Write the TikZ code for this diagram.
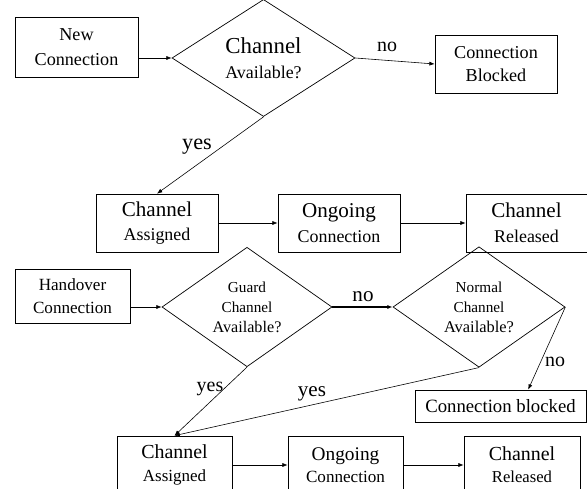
\documentclass[tikz,border=0pt]{standalone}
\usepackage{fontspec}
\setmainfont{Liberation Serif}
\usetikzlibrary{shapes.geometric,arrows.meta}

\newcommand{\sz}[2]{\fontsize{#1}{#2}\selectfont}

\tikzset{
    box/.style={draw, rectangle, line width=0.6pt, align=center, inner sep=0pt},
    decision/.style={draw, diamond, line width=0.6pt, align=center, inner sep=0pt},
    flow/.style={-{Latex[length=4.5pt,width=3.5pt]}, line width=0.5pt},
    lbl/.style={anchor=base, font=\sz{17}{17}}
}

\begin{document}
\begin{tikzpicture}[x=0.03cm, y=-0.03cm]
    \clip (0,0) rectangle (587,489);
    \useasboundingbox (0,0) rectangle (587,489);

    \node[box, minimum width=3.69cm, minimum height=1.8cm, font=\sz{15.5}{21}] (NewConn) at (76.5,47) {New\\Connection};
    \node[decision, minimum width=5.49cm, minimum height=3.03cm, font=\sz{15.3}{21}] (ChanAvail) at (263.5,58) {{\sz{19.5}{21}Channel}\\Available?};
    \node[box, minimum width=3.66cm, minimum height=1.74cm, font=\sz{15.5}{19}] (ConnBlocked) at (496,64) {Connection\\Blocked};

    \node[box, minimum width=3.66cm, minimum height=1.74cm, font=\sz{15.3}{21}] (ChanAssigned) at (157,223) {{\sz{18}{21}Channel}\\Assigned};
    \node[box, minimum width=3.66cm, minimum height=1.74cm, font=\sz{15.3}{21}] (Ongoing) at (339,223) {{\sz{18}{21}Ongoing}\\Connection};
    \node[box, minimum width=3.63cm, minimum height=1.74cm, font=\sz{15.3}{21}] (ChanReleased) at (526.5,223) {{\sz{18}{21}Channel}\\Released};

    \node[box, minimum width=3.45cm, minimum height=1.62cm, font=\sz{14.6}{19.5}] (Handover) at (72.5,296) {Handover\\Connection};
    \node[decision, minimum width=5.1cm, minimum height=2.88cm, font=\sz{13}{17}] (GuardAvail) at (247,307) {Guard\\Channel\\{\sz{13.8}{17}Available?}};
    \node[decision, minimum width=5.16cm, minimum height=2.88cm, font=\sz{13}{17}] (NormAvail) at (479,307) {Normal\\Channel\\{\sz{14}{17}Available?}};
    \node[box, minimum width=5.13cm, minimum height=0.96cm, font=\sz{16}{18}] (ConnBlockedB) at (500.5,406) {Connection blocked};

    \node[box, minimum width=3.45cm, minimum height=1.74cm, font=\sz{14.5}{19}] (ChanAssignedB) at (174.5,465) {{\sz{17}{19}Channel}\\Assigned};
    \node[box, minimum width=3.45cm, minimum height=1.74cm, font=\sz{14.6}{19}] (OngoingB) at (345.5,465) {{\sz{16.5}{19}Ongoing}\\Connection};
    \node[box, minimum width=3.48cm, minimum height=1.74cm, font=\sz{14.2}{19}] (ChanReleasedB) at (522,465) {{\sz{17}{19}Channel}\\Released};

    \node[lbl] (NoA) at (387,52) {no};
    \node[lbl, font=\sz{19}{19}] (YesA) at (197,150) {yes};
    \node[lbl, font=\sz{18}{18}] (NoB) at (363,302) {no};
    \node[lbl] (NoC) at (555,367) {no};
    \node[lbl, font=\sz{17}{17}] (YesB) at (210,392) {yes};
    \node[lbl, font=\sz{18}{18}] (YesC) at (312,397) {yes};

    \draw[flow] (NewConn.east |- ChanAvail.west) -- (ChanAvail.west);
    \draw[flow] (ChanAvail.east) -- (ConnBlocked.west);
    \draw[flow] (ChanAvail.south) -- (ChanAssigned.north);
    \draw[flow] (ChanAssigned) -- (Ongoing);
    \draw[flow] (Ongoing) -- (ChanReleased);

    \draw[flow] (Handover.east |- GuardAvail.west) -- (GuardAvail.west);
    \draw[flow, line width=0.9pt] (GuardAvail.east) -- (NormAvail.west);
    \draw[flow] (NormAvail.east) -- ([xshift=0.83cm]ConnBlockedB.north);
    \draw[flow] (GuardAvail.south) -- (ChanAssignedB.north);
    \draw[flow] (NormAvail.south) -- (ChanAssignedB.north);
    \draw[flow] (ChanAssignedB) -- (OngoingB);
    \draw[flow] (OngoingB) -- (ChanReleasedB);
\end{tikzpicture}
\end{document}
